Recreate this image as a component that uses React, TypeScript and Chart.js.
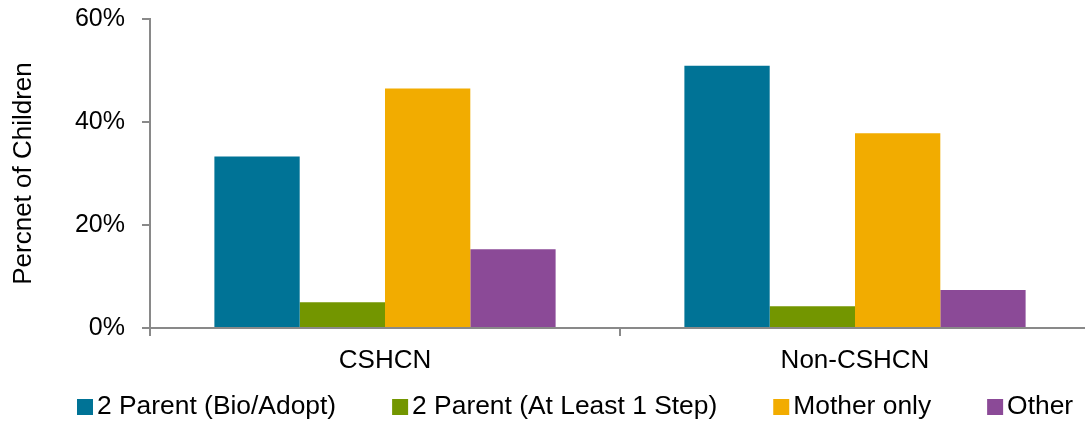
import React, { useEffect, useRef } from 'react';
import { Chart, registerables } from 'chart.js';

Chart.register(...registerables);

const categories = ['CSHCN', 'Non-CSHCN'];
const seriesLabels = ['2 Parent (Bio/Adopt)', '2 Parent (At Least 1 Step)', 'Mother only', 'Other'];
const bioAdopt = [33.3, 50.9];
const atLeastOneStep = [5.0, 4.2];
const motherOnly = [46.5, 37.8];
const other = [15.3, 7.4];
const yTicks = [0, 20, 40, 60];
const yTitle = 'Percnet of Children';
const seriesColors = ['#007396', '#739600', '#F2AC00', '#8B4A97'];

const FAMILY = '"Liberation Sans", Arial, Helvetica, sans-serif';
const AXIS_COLOR = '#898989';

const legendPlugin = {
  id: 'customLegend',
  afterDraw(chart: any) {
    const ctx = chart.ctx;
    ctx.save();
    ctx.font = `26.4px ${FAMILY}`;
    ctx.textBaseline = 'middle';
    ctx.textAlign = 'left';
    let x = 77;
    const yc = 407;
    chart.data.datasets.forEach((ds: any) => {
      ctx.fillStyle = ds.backgroundColor;
      ctx.fillRect(x, yc - 8, 16, 16);
      x += 20;
      ctx.fillStyle = '#000';
      ctx.fillText(ds.label, x, yc);
      x += ctx.measureText(ds.label).width + 56;
    });
    ctx.restore();
  },
};

export default function App() {
  const canvasRef = useRef<HTMLCanvasElement | null>(null);

  useEffect(() => {
    const canvas = canvasRef.current;
    if (!canvas) return;
    const seriesValues = [bioAdopt, atLeastOneStep, motherOnly, other];
    const chart = new Chart(canvas, {
      type: 'bar',
      data: {
        labels: categories,
        datasets: seriesValues.map((vals, i) => ({
          label: seriesLabels[i],
          data: vals,
          backgroundColor: seriesColors[i],
          borderWidth: 0,
          barPercentage: 1,
          categoryPercentage: 0.726,
        })),
      },
      options: {
        responsive: false,
        animation: false,
        devicePixelRatio: 1,
        layout: { padding: { top: 19, bottom: 47, left: 0, right: 2 } },
        plugins: {
          legend: { display: false },
          tooltip: { enabled: false },
        },
        scales: {
          x: {
            offset: true,
            grid: {
              display: true,
              offset: true,
              drawOnChartArea: false,
              drawTicks: true,
              tickLength: 8,
              color: AXIS_COLOR,
              lineWidth: 2,
            },
            border: { display: true, color: AXIS_COLOR, width: 2 },
            ticks: {
              font: { size: 26, family: FAMILY },
              color: '#000',
              padding: 9,
              maxRotation: 0,
            },
            afterFit: (s: any) => {
              s.height = 50;
              s.paddingLeft = 0;
              s.paddingRight = 0;
            },
          },
          y: {
            min: 0,
            max: 60,
            afterBuildTicks: (s: any) => {
              s.ticks = yTicks.map((v) => ({ value: v }));
            },
            grid: {
              drawOnChartArea: false,
              drawTicks: true,
              tickLength: 8,
              color: AXIS_COLOR,
              lineWidth: 2,
            },
            border: { display: true, color: AXIS_COLOR, width: 2 },
            ticks: {
              font: { size: 25, family: FAMILY },
              color: '#000',
              padding: 17,
              callback: (v: any) => `${v}%`,
            },
            title: {
              display: true,
              text: yTitle,
              font: { size: 26, family: FAMILY },
              color: '#000',
              padding: { top: 8, bottom: 0 },
            },
            afterFit: (s: any) => {
              s.width = 150;
              s.paddingTop = 0;
              s.paddingBottom = 0;
            },
          },
        },
      },
      plugins: [legendPlugin],
    });
    return () => chart.destroy();
  }, []);

  return (
    <div
      style={{
        position: 'absolute',
        left: 0,
        top: 0,
        width: 1085,
        height: 425,
        overflow: 'hidden',
        background: '#fff',
      }}
    >
      <canvas ref={canvasRef} width={1092} height={425} style={{ display: 'block' }} />
    </div>
  );
}
